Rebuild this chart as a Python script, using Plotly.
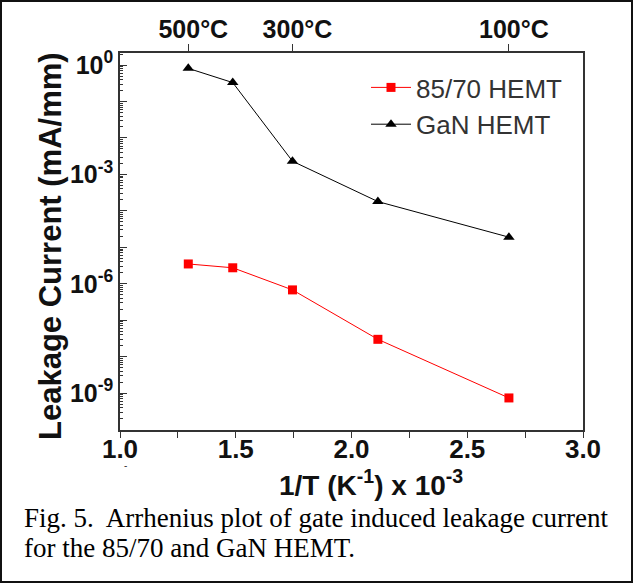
import plotly.graph_objects as go

# data
inv_T = [1.295, 1.487, 1.745, 2.114, 2.68]
gan_hemt = [0.81, 0.33, 2.3e-3, 1.8e-4, 1.9e-5]
hemt_8570 = [3.5e-6, 2.75e-6, 6.8e-7, 3.0e-8, 7.4e-10]
top_tick_vals = [1.295, 1.745, 2.68]
top_tick_text = ["500°C", "300°C", "100°C"]
y_exponents = list(range(0, -11, -1))
y_tick_vals = [10.0 ** e for e in y_exponents]
y_tick_text = ["10<sup>%d</sup>" % e if e % 3 == 0 else "" for e in y_exponents]
y_minor_vals = [k * 10.0 ** e for e in range(-11, 1) for k in range(2, 10)]
x_tick_vals = [1.0, 1.5, 2.0, 2.5, 3.0]
x_minor_vals = [1.25, 1.75, 2.25, 2.75]

W, H = 634, 584
L, R, T, B = 120, 583, 53, 430

def px(x):
    return (x - L) / (R - L)

def py(y):
    return (B - y) / (B - T)

fig = go.Figure()
fig.add_trace(go.Scatter(
    x=inv_T, y=hemt_8570, mode="lines+markers", name="85/70 HEMT",
    line=dict(color="#ff0000", width=1),
    marker=dict(symbol="square", size=9, color="#ff0000"),
))
fig.add_trace(go.Scatter(
    x=inv_T, y=gan_hemt, mode="lines+markers", name="GaN HEMT",
    line=dict(color="#000000", width=1),
    marker=dict(symbol="triangle-up", size=10, color="#000000"),
))
# invisible trace on top axis
fig.add_trace(go.Scatter(x=[1.0, 3.0], y=[1e-5, 1e-5], xaxis="x2", mode="markers",
                         marker=dict(opacity=0), showlegend=False, hoverinfo="skip"))

SANS = "Liberation Sans, Arial"
fig.update_layout(
    width=W, height=H,
    margin=dict(l=L, r=W - R, t=T, b=H - B),
    paper_bgcolor="white", plot_bgcolor="white",
    showlegend=True,
    legend=dict(x=px(366), y=py(64), xanchor="left", yanchor="top",
                font=dict(family=SANS, size=26, color="#333333"),
                bgcolor="rgba(0,0,0,0)", tracegroupgap=0, itemwidth=40),
    xaxis=dict(
        range=[1.0, 3.0], tickvals=x_tick_vals, ticktext=["%.1f" % v for v in x_tick_vals],
        ticks="outside", ticklen=6, tickwidth=1, tickcolor="#333",
        showline=True, linecolor="#333", linewidth=1.5, mirror=True,
        showgrid=False, zeroline=False, ticklabelstandoff=-11,
        tickfont=dict(family=SANS, size=26, color="#111111", weight="bold"),
        minor=dict(tickvals=x_minor_vals, ticks="outside", ticklen=6, tickcolor="#333", showgrid=False),
    ),
    xaxis2=dict(
        overlaying="x", side="top", range=[1.0, 3.0],
        tickvals=top_tick_vals, ticktext=top_tick_text,
        ticks="outside", ticklen=7, tickcolor="#333",
        showline=True, linecolor="#333", linewidth=1.5,
        showgrid=False, zeroline=False, ticklabelstandoff=-4, ticklabelshift=5,
        tickfont=dict(family=SANS, size=25, color="#111111", weight="bold"),
    ),
    yaxis=dict(
        type="log", range=[-10.01, 0.33],
        tickvals=y_tick_vals, ticktext=y_tick_text,
        ticks="inside", ticklen=7, tickcolor="#333",
        showline=True, linecolor="#333", linewidth=1.5, mirror=True,
        showgrid=False, zeroline=False, ticklabelstandoff=0,
        tickfont=dict(family=SANS, size=25, color="#111111", weight="bold"),
        minor=dict(tickvals=y_minor_vals, ticks="inside", ticklen=3, tickcolor="#333", showgrid=False),
    ),
)

# axis titles
fig.add_annotation(
    xref="paper", yref="paper", x=px(371), y=py(483), xanchor="center", yanchor="middle",
    showarrow=False, text="<b>1/T (K<sup>-1</sup>) x 10<sup>-3</sup></b>",
    font=dict(family=SANS, size=28, color="#111111"),
)
fig.add_annotation(
    xref="paper", yref="paper", x=px(50), y=py(246), xanchor="center", yanchor="middle",
    showarrow=False, textangle=-90, text="<b>Leakage Current (mA/mm)</b>",
    font=dict(family=SANS, size=31, color="#111111"),
)

caption_lines = ["Fig. 5.&nbsp; Arrhenius plot of gate induced leakage current",
                 "for the 85/70 and GaN HEMT."]
for i, line in enumerate(caption_lines):
    fig.add_annotation(
        xref="paper", yref="paper", x=px(22), y=py(518 + 30 * i), xanchor="left", yanchor="middle",
        align="left", showarrow=False, text=line,
        font=dict(family="Liberation Serif, Times New Roman", size=27, color="#000000"),
    )
fig.add_annotation(
    xref="paper", yref="paper", x=px(122), y=py(473), showarrow=False,
    text="-", font=dict(family=SANS, size=10, color="#333"),
)
fig.add_shape(type="rect", xref="paper", yref="paper",
              x0=px(1), x1=px(632), y0=py(582), y1=py(1),
              line=dict(color="#111111", width=2), layer="below")

fig.write_html("out.html")
